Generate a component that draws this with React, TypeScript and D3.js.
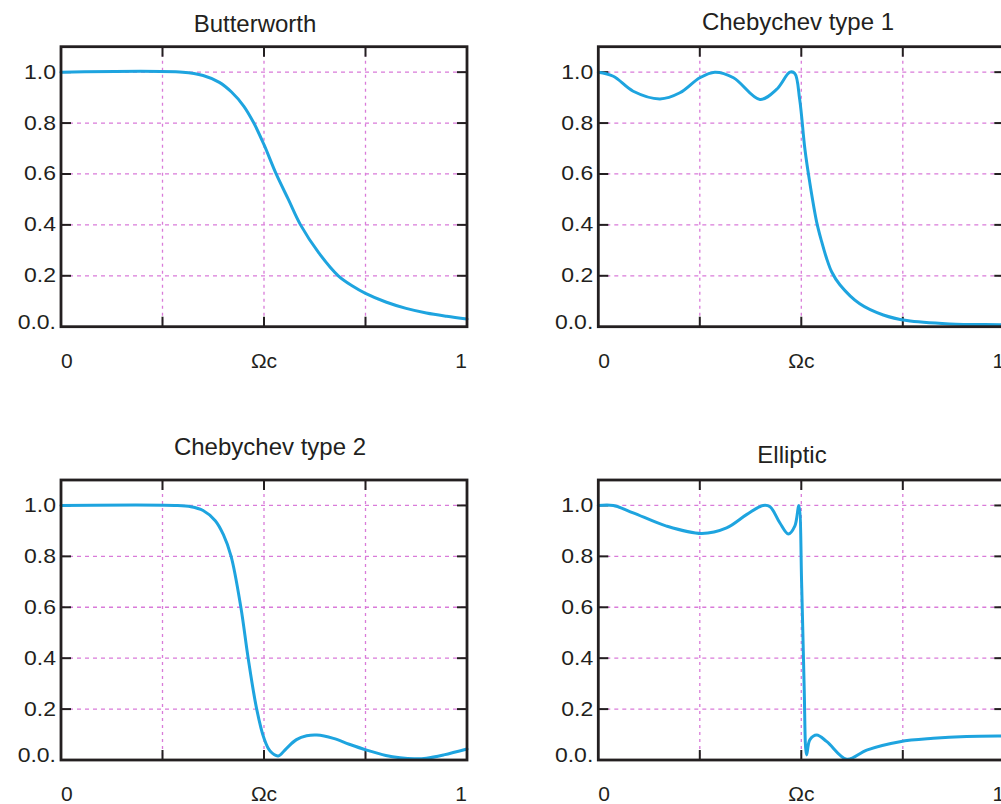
import React from 'react';
import * as d3 from 'd3';

// Normalised frequency (0 … 1, with the cut-off Ωc at 0.5) and magnitude response of each filter
const butterworthFreq = [0, 0.3, 0.35, 0.39, 0.42, 0.45, 0.475, 0.5, 0.53, 0.56, 0.59, 0.635, 0.683, 0.72, 0.75, 0.8, 0.85, 0.9, 0.95, 1.0];
const butterworthGain = [1.0, 1.0, 0.987, 0.96, 0.922, 0.867, 0.8, 0.715, 0.6, 0.5, 0.4, 0.29, 0.2, 0.158, 0.131, 0.097, 0.072, 0.054, 0.041, 0.03];

const cheby1Freq = [0, 0.037, 0.086, 0.152, 0.201, 0.25, 0.287, 0.333, 0.398, 0.439, 0.472, 0.484, 0.496, 0.509, 0.521, 0.538, 0.55, 0.562, 0.575, 0.595, 0.644, 0.702, 0.76, 0.866, 0.989, 1.0];
const cheby1Gain = [1.0, 0.984, 0.925, 0.895, 0.919, 0.978, 1.0, 0.978, 0.893, 0.932, 1.0, 0.995, 0.893, 0.696, 0.565, 0.41, 0.335, 0.27, 0.215, 0.165, 0.09, 0.046, 0.024, 0.011, 0.008, 0.007];

const cheby2Freq = [0, 0.28, 0.32, 0.35, 0.38, 0.4, 0.419, 0.443, 0.461, 0.482, 0.5, 0.515, 0.535, 0.555, 0.58, 0.605, 0.63, 0.671, 0.71, 0.753, 0.8, 0.835, 0.87, 0.9, 0.943, 1.0];
const cheby2Gain = [1.0, 1.0, 0.995, 0.98, 0.94, 0.885, 0.8, 0.6, 0.4, 0.2, 0.085, 0.035, 0.016, 0.045, 0.08, 0.095, 0.098, 0.085, 0.062, 0.039, 0.018, 0.009, 0.005, 0.007, 0.02, 0.043];

const ellipticFreq = [0, 0.037, 0.086, 0.168, 0.255, 0.316, 0.366, 0.406, 0.423, 0.447, 0.468, 0.484, 0.494, 0.501, 0.507, 0.513, 0.521, 0.538, 0.563, 0.612, 0.661, 0.743, 0.825, 0.907, 0.989, 1.0];
const ellipticGain = [1.0, 1.0, 0.971, 0.919, 0.89, 0.912, 0.965, 1.0, 0.995, 0.932, 0.888, 0.919, 1.0, 0.682, 0.289, 0.02, 0.079, 0.098, 0.072, 0.003, 0.039, 0.072, 0.085, 0.092, 0.094, 0.094];

// Axis ticks
const gainTicks = [0, 0.2, 0.4, 0.6, 0.8, 1.0];
const gainTickLabels = ['0.0.', '0.2', '0.4', '0.6', '0.8', '1.0'];
const freqGrid = [0.25, 0.5, 0.75];
const freqLabels = [
  { v: 0, text: '0', anchor: 'start' },
  { v: 0.5, text: 'Ωc', anchor: 'middle' },
  { v: 1, text: '1', anchor: 'end' },
];

const PW = 406;
const PH = 280;

const panels = [
  { title: 'Butterworth', freq: butterworthFreq, gain: butterworthGain, left: 61, top: 46.7, titleX: 255, titleY: 31.5 },
  { title: 'Chebychev type 1', freq: cheby1Freq, gain: cheby1Gain, left: 598.3, top: 46.7, titleX: 798, titleY: 29.5 },
  { title: 'Chebychev type 2', freq: cheby2Freq, gain: cheby2Gain, left: 61, top: 480, titleX: 270, titleY: 455 },
  { title: 'Elliptic', freq: ellipticFreq, gain: ellipticGain, left: 598.3, top: 480, titleX: 792, titleY: 463 },
];

const FONT = "'Liberation Sans', Arial, Helvetica, sans-serif";
const CURVE = '#1ea4df';
const FRAME = '#231f20';
const GRID = '#d97bd9';

function Panel({ p }: { p: typeof panels[number] }) {
  const x = d3.scaleLinear().domain([0, 1]).range([p.left, p.left + PW]);
  const y = d3.scaleLinear().domain([0, 1.1]).range([p.top + PH, p.top]);
  const line = d3
    .line<number>()
    .x((_, i) => x(p.freq[i]))
    .y((d) => y(d))
    .curve(d3.curveCatmullRom.alpha(0.5));
  const bottom = p.top + PH;
  const right = p.left + PW;
  const tickLen = 10;

  return (
    <g>
      <text x={p.titleX} y={p.titleY} textAnchor="middle" fontFamily={FONT} fontSize={24} fill="#231f20">
        {p.title}
      </text>

      {/* dashed grid */}
      {gainTicks.filter((g) => g > 0).map((g) => (
        <line key={'h' + g} x1={p.left} x2={right} y1={y(g)} y2={y(g)} stroke={GRID} strokeWidth={1.3} strokeDasharray="4 4" />
      ))}
      {freqGrid.map((f) => (
        <line key={'v' + f} x1={x(f)} x2={x(f)} y1={p.top} y2={bottom} stroke={GRID} strokeWidth={1.3} strokeDasharray="3 4" />
      ))}

      {/* inward ticks on all four sides */}
      {gainTicks.filter((g) => g > 0).map((g) => (
        <g key={'t' + g}>
          <line x1={p.left} x2={p.left + tickLen} y1={y(g)} y2={y(g)} stroke={FRAME} strokeWidth={2} />
          <line x1={right - tickLen} x2={right} y1={y(g)} y2={y(g)} stroke={FRAME} strokeWidth={2} />
        </g>
      ))}
      {freqGrid.map((f) => (
        <g key={'u' + f}>
          <line x1={x(f)} x2={x(f)} y1={p.top} y2={p.top + tickLen} stroke={FRAME} strokeWidth={2} />
          <line x1={x(f)} x2={x(f)} y1={bottom - tickLen} y2={bottom} stroke={FRAME} strokeWidth={2} />
        </g>
      ))}

      <path d={line(p.gain) || ''} fill="none" stroke={CURVE} strokeWidth={3} strokeLinejoin="round" strokeLinecap="round" />

      <rect x={p.left} y={p.top} width={PW} height={PH} fill="none" stroke={FRAME} strokeWidth={2.8} />

      {/* gain labels */}
      {gainTicks.map((g, i) => (
        <text
          key={'l' + g}
          transform={`translate(${p.left - 5},${y(g) + (g === 0 ? 2 : 6.5)}) scale(1.15,1)`}
          textAnchor="end"
          fontFamily={FONT}
          fontSize={20}
          fill="#231f20"
        >
          {gainTickLabels[i]}
        </text>
      ))}

      {/* frequency labels */}
      {freqLabels.map((l) => (
        <text
          key={'f' + l.v}
          x={x(l.v)}
          y={bottom + 41}
          textAnchor={l.anchor as any}
          fontFamily={FONT}
          fontSize={21}
          fill="#231f20"
        >
          {l.text}
        </text>
      ))}
    </g>
  );
}

export default function App() {
  return (
    <svg width={1001} height={804} style={{ position: 'absolute', left: 0, top: 0, background: '#fff' }}>
      <rect width={1001} height={804} fill="#fff" />
      {panels.map((p) => (
        <Panel key={p.title} p={p} />
      ))}
    </svg>
  );
}
